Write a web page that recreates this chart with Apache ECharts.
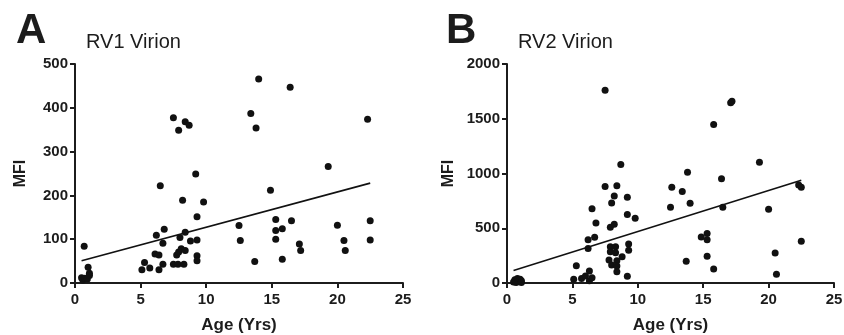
<!DOCTYPE html>
<html>
<head>
<meta charset="utf-8">
<script src="https://cdn.jsdelivr.net/npm/echarts@6/dist/echarts.min.js"></script>
<style>
  html, body { margin: 0; padding: 0; background: #fff; }
  #chart { width: 844px; height: 335px; }
</style>
</head>
<body>
<div id="chart"></div>
<script>
// RV1 virion: [age, MFI]
const rv1Points = [
  [0.5, 12], [0.6, 7], [0.7, 84], [0.76, 11], [0.94, 9], [1.0, 36], [1.1, 22], [1.1, 17],
  [5.1, 30], [5.3, 47], [5.7, 34], [6.1, 66], [6.2, 109], [6.4, 64], [6.4, 30], [6.5, 222],
  [6.7, 43], [6.7, 91], [6.8, 123], [7.5, 43], [7.5, 377], [7.75, 64], [7.85, 43], [7.9, 71],
  [7.9, 349], [8.0, 104], [8.1, 78], [8.2, 189], [8.3, 43], [8.4, 116], [8.4, 74], [8.4, 368],
  [8.7, 360], [8.8, 96], [9.2, 249], [9.3, 151], [9.3, 62], [9.3, 51], [9.3, 98], [9.8, 185],
  [12.5, 131], [12.6, 97], [13.4, 387], [13.7, 49], [13.8, 354], [14.0, 466], [14.9, 212],
  [15.3, 145], [15.3, 120], [15.3, 100], [15.8, 124], [15.8, 54], [16.4, 447], [16.5, 142],
  [17.1, 89], [17.2, 74], [19.3, 266], [20.0, 132], [20.5, 97], [20.6, 74], [22.3, 374],
  [22.5, 142], [22.5, 98]
];

// RV2 virion: [age, MFI]
const rv2Points = [
  [0.5, 10], [0.6, 30], [0.7, 5], [0.8, 40], [0.9, 15], [1.0, 35], [1.1, 20], [1.1, 5],
  [5.1, 34], [5.3, 158], [5.7, 40], [6.0, 64], [6.2, 314], [6.2, 396], [6.3, 110], [6.3, 20],
  [6.5, 48], [6.5, 679], [6.7, 418], [6.8, 548], [7.5, 881], [7.5, 1761], [7.8, 210],
  [7.9, 332], [7.9, 286], [7.9, 509], [8.0, 731], [8.0, 164], [8.2, 795], [8.2, 536],
  [8.3, 332], [8.3, 277], [8.4, 887], [8.4, 204], [8.4, 155], [8.4, 103], [8.7, 1082],
  [8.8, 240], [9.2, 783], [9.2, 625], [9.2, 61], [9.3, 356], [9.3, 299], [9.8, 591],
  [12.5, 692], [12.6, 875], [13.4, 835], [13.7, 198], [13.8, 1012], [14.0, 728],
  [14.85, 420], [15.3, 451], [15.3, 396], [15.3, 244], [15.8, 1447], [15.8, 128],
  [16.4, 953], [16.5, 692], [17.1, 1645], [17.2, 1660], [19.3, 1103], [20.0, 674],
  [20.5, 274], [20.6, 79], [22.3, 896], [22.5, 875], [22.5, 381]
];

// fitted lines, end points
const rv1Fit = [[0.5, 51], [22.5, 228]];
const rv2Fit = [[0.5, 115], [22.5, 939]];

const xMax = 25;
const xStep = 5;
const rv1Max = 500, rv1Step = 100;
const rv2Max = 2000, rv2Step = 500;

const ink = "#1c1c1c";
const font = "'Liberation Sans', Arial, Helvetica, sans-serif";

const axisStyle = {
  axisLine: { show: true, onZero: false, lineStyle: { color: ink, width: 2 } },
  axisTick: { show: true, length: 5, lineStyle: { color: ink, width: 2 } },
  splitLine: { show: false },
};

const xAxis = (gridIndex) => ({
  gridIndex,
  type: "value",
  min: 0,
  max: xMax,
  interval: xStep,
  ...axisStyle,
  axisLabel: { color: ink, fontSize: 15, fontWeight: "bold", fontFamily: font, margin: 9 },
  name: "Age (Yrs)",
  nameLocation: "middle",
  nameGap: 34,
  nameTextStyle: { color: ink, fontSize: 17, fontWeight: "bold", fontFamily: font },
});

const yAxis = (gridIndex, max, step, gap) => ({
  gridIndex,
  type: "value",
  min: 0,
  max,
  interval: step,
  ...axisStyle,
  axisLabel: {
    color: ink, fontSize: 15, fontWeight: "bold", fontFamily: font, margin: 7,
    formatter: (v) => String(v),
  },
  name: "MFI",
  nameLocation: "middle",
  nameGap: gap,
  nameTextStyle: { color: ink, fontSize: 16, fontWeight: "bold", fontFamily: font },
});

const dots = (i, data) => ({
  type: "scatter",
  xAxisIndex: i,
  yAxisIndex: i,
  data,
  symbolSize: 7,
  itemStyle: { color: "#111", opacity: 1 },
  silent: true,
});

const fit = (i, data) => ({
  type: "line",
  xAxisIndex: i,
  yAxisIndex: i,
  data,
  symbol: "none",
  lineStyle: { color: "#111", width: 1.6 },
  silent: true,
});

const chart = echarts.init(document.getElementById("chart"), null, { renderer: "canvas" });

chart.setOption({
  animation: false,
  title: [
    { text: "A", left: 11, top: 5, textStyle: { color: ink, fontSize: 42, fontWeight: "bold", fontFamily: font } },
    { text: "RV1 Virion", left: 81, top: 27, textStyle: { color: ink, fontSize: 20, fontWeight: "normal", fontFamily: font } },
    { text: "B", left: 441, top: 5, textStyle: { color: ink, fontSize: 42, fontWeight: "bold", fontFamily: font } },
    { text: "RV2 Virion", left: 513, top: 27, textStyle: { color: ink, fontSize: 20, fontWeight: "normal", fontFamily: font } },
  ],
  grid: [
    { left: 75, top: 64, width: 328, height: 219, outerBoundsMode: "none" },
    { left: 507, top: 64, width: 327, height: 219, outerBoundsMode: "none" },
  ],
  xAxis: [xAxis(0), xAxis(1)],
  yAxis: [yAxis(0, rv1Max, rv1Step, 46), yAxis(1, rv2Max, rv2Step, 50)],
  series: [
    dots(0, rv1Points),
    fit(0, rv1Fit),
    dots(1, rv2Points),
    fit(1, rv2Fit),
  ],
});
</script>
</body>
</html>
